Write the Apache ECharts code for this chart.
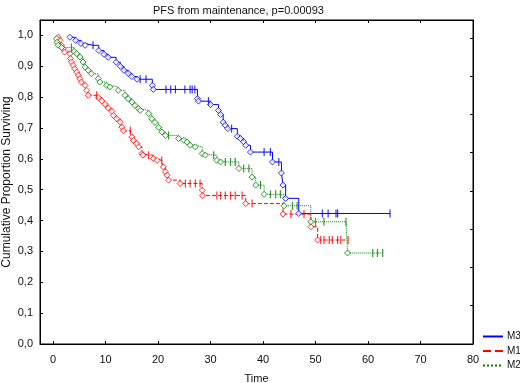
<!DOCTYPE html>
<html>
<head>
<meta charset="utf-8">
<script src="https://cdn.jsdelivr.net/npm/echarts@6/dist/echarts.min.js"></script>
<style>
html,body{margin:0;padding:0;background:#fff;}
#chartmain{width:520px;height:383px;}
</style>
</head>
<body>
<div id="chartmain"></div>
<script>
// tick values
var xTicks = [0, 10, 20, 30, 40, 50, 60, 70, 80];
var yTicks = [0, 0.1, 0.2, 0.3, 0.4, 0.5, 0.6, 0.7, 0.8, 0.9, 1.0];
var rightTicks = [1, 2, 3, 4, 5, 6, 7, 8];
var groups = ['M3', 'M1', 'M2'];

// M3 - event times / survival, censored times
var m3Times = [3.2, 4.3, 5.3, 6.1, 8.7, 9.7, 10.5, 12.0, 12.8, 13.5, 14.3, 15.0, 16.0, 18.9, 19.1, 27.5, 27.7, 30.0, 31.5, 31.9, 32.4, 32.8, 33.3, 35.1, 35.7, 36.3, 36.7, 37.6, 41.8, 43.5, 43.8, 44.3, 46.8];
var m3Surv = [0.994, 0.984, 0.974, 0.968, 0.951, 0.939, 0.929, 0.913, 0.900, 0.887, 0.877, 0.867, 0.858, 0.838, 0.825, 0.795, 0.787, 0.776, 0.757, 0.744, 0.719, 0.709, 0.698, 0.673, 0.666, 0.655, 0.644, 0.622, 0.590, 0.554, 0.515, 0.472, 0.423];
var m3Censor = [7.6, 16.6, 17.7, 21.5, 22.4, 23.3, 25.1, 26.1, 26.5, 27.0, 29.6, 34.0, 40.2, 41.4, 43.0, 51.3, 52.4, 53.9, 54.2, 64.2];

// M1
var m1Times = [0.96, 1.3, 1.6, 1.9, 2.2, 3.2, 3.3, 3.5, 3.8, 4.1, 4.5, 4.8, 5.1, 5.4, 6.1, 6.4, 6.7, 8.6, 9.3, 9.9, 10.5, 11.2, 11.5, 12.1, 12.8, 13.1, 13.4, 15.0, 15.3, 15.9, 16.3, 16.9, 17.1, 19.1, 19.8, 21.0, 21.4, 21.7, 22.0, 24.2, 28.4, 28.5, 36.7, 43.8, 49.1, 50.4];
var m1Surv = [0.994, 0.984, 0.968, 0.957, 0.946, 0.941, 0.925, 0.914, 0.903, 0.892, 0.881, 0.871, 0.860, 0.849, 0.838, 0.822, 0.806, 0.799, 0.788, 0.777, 0.765, 0.754, 0.741, 0.730, 0.719, 0.703, 0.691, 0.671, 0.660, 0.650, 0.639, 0.617, 0.612, 0.601, 0.595, 0.574, 0.558, 0.547, 0.531, 0.520, 0.498, 0.481, 0.455, 0.421, 0.380, 0.337];
var m1Censor = [8.3, 14.7, 18.2, 20.7, 25.2, 26.1, 27.1, 28.0, 31.2, 31.9, 32.8, 33.8, 34.7, 36.0, 37.9, 45.3, 47.8, 51.0, 51.6, 52.6, 53.2, 54.2, 54.8, 56.2];

// M2
var m2Times = [0.65, 0.76, 0.96, 1.6, 4.0, 4.5, 5.1, 5.7, 6.1, 6.7, 7.3, 8.6, 8.9, 10.2, 10.8, 12.4, 13.7, 14.3, 15.0, 15.6, 16.3, 16.6, 18.2, 18.8, 19.4, 20.1, 20.7, 21.4, 23.9, 24.9, 25.5, 26.1, 27.1, 28.4, 29.0, 31.2, 31.9, 35.4, 37.9, 38.6, 40.2, 44.0, 49.1, 56.1];
var m2Surv = [0.989, 0.978, 0.968, 0.961, 0.948, 0.941, 0.930, 0.914, 0.897, 0.887, 0.876, 0.860, 0.849, 0.838, 0.833, 0.822, 0.806, 0.795, 0.784, 0.773, 0.763, 0.757, 0.747, 0.730, 0.718, 0.702, 0.687, 0.676, 0.666, 0.660, 0.655, 0.644, 0.639, 0.617, 0.612, 0.595, 0.590, 0.569, 0.541, 0.515, 0.485, 0.448, 0.396, 0.295];
var m2Censor = [3.5, 22.0, 30.6, 32.8, 33.8, 34.7, 36.3, 37.3, 39.5, 41.4, 42.4, 43.3, 45.6, 46.5, 50.0, 51.6, 55.8, 60.9, 61.8, 62.8];

var colors = ['#0000ff', '#ff0000', '#008000'];
var lineTypes = ['solid', 'dashed', 'dotted'];
var font = 'Liberation Sans, Arial, sans-serif';

function survAt(times, surv, t) {
	var s = 1;
	for (var i = 0; i < times.length; i++) {
		if (times[i] <= t) s = surv[i];
	}
	return s;
}

function buildSeries(name, times, surv, censor, idx) {
	var events = times.map(function(t, i) { return [t, surv[i]]; });
	var cens = censor.map(function(t) { return [t, survAt(times, surv, t)]; });
	var all = events.concat(cens).sort(function(a, b) { return a[0] - b[0]; });
	return [{
		name: name,
		type: 'line',
		step: 'end',
		symbol: 'none',
		showSymbol: false,
		data: all,
		z: 2,
		lineStyle: {color: colors[idx], width: 1, type: lineTypes[idx]},
		itemStyle: {color: colors[idx]}
	}, {
		name: name + ' events',
		type: 'scatter',
		symbol: 'diamond',
		symbolSize: 6,
		data: events,
		z: 3,
		itemStyle: {color: '#fff', borderColor: colors[idx], borderWidth: 1}
	}, {
		name: name + ' censored',
		type: 'scatter',
		symbol: 'rect',
		symbolSize: [1.2, 8],
		data: cens,
		z: 4,
		itemStyle: {color: colors[idx]}
	}];
}

var series = []
	.concat(buildSeries('M3', m3Times, m3Surv, m3Censor, 0))
	.concat(buildSeries('M1', m1Times, m1Surv, m1Censor, 1))
	.concat(buildSeries('M2', m2Times, m2Surv, m2Censor, 2));

var option = {
	animation: false,
	backgroundColor: '#fff',
	title: {
		text: 'PFS from maintenance, p=0.00093',
		left: 148,
		top: 0,
		textStyle: {fontSize: 11, fontWeight: 'normal', color: '#111', fontFamily: font}
	},
	legend: {
		data: groups,
		orient: 'vertical',
		left: 482,
		top: 331,
		padding: 0,
		itemWidth: 20,
		itemHeight: 8,
		itemGap: 3.5,
		itemStyle: {opacity: 0},
		textStyle: {fontSize: 10, lineHeight: 11, color: '#111', fontFamily: font, padding: [0, 0, 0, -1]}
	},
	grid: {
		left: 40, right: 47, top: 20, bottom: 39,
		containLabel: false,
		outerBoundsMode: 'none',
		show: true, borderColor: '#000', borderWidth: 1
	},
	xAxis: [{
		type: 'value', min: -2.5, max: 80, position: 'bottom',
		name: 'Time', nameLocation: 'middle', nameGap: 29, nameMoveOverlap: false,
		nameTextStyle: {fontSize: 11, color: '#111', fontFamily: font},
		axisLine: {show: true, onZero: false, lineStyle: {color: '#000', width: 1}},
		axisTick: {inside: true, length: 3, customValues: xTicks, lineStyle: {color: '#000'}},
		axisLabel: {customValues: xTicks, margin: 10, fontSize: 11, color: '#111', fontFamily: font},
		splitLine: {show: false}
	}, {
		type: 'value', min: -2.5, max: 80, position: 'top',
		axisLine: {show: true, onZero: false, lineStyle: {color: '#000', width: 1}},
		axisTick: {inside: true, length: 3, customValues: xTicks, lineStyle: {color: '#000'}},
		axisLabel: {show: false},
		splitLine: {show: false}
	}],
	yAxis: [{
		type: 'value', min: 0, max: 1.05, position: 'left',
		name: 'Cumulative Proportion Surviving', nameLocation: 'middle', nameGap: 27, nameMoveOverlap: false,
		nameTextStyle: {fontSize: 12, color: '#111', fontFamily: font},
		axisLine: {show: true, onZero: false, lineStyle: {color: '#000', width: 1}},
		axisTick: {inside: true, length: 3, customValues: yTicks, lineStyle: {color: '#000'}},
		axisLabel: {
			customValues: yTicks, margin: 7, fontSize: 11, color: '#111', fontFamily: font,
			formatter: function(v) { return v.toFixed(1).replace('.', ','); }
		},
		splitLine: {show: false}
	}, {
		type: 'value', min: 0, max: 8.47, position: 'right',
		axisLine: {show: true, onZero: false, lineStyle: {color: '#000', width: 1}},
		axisTick: {inside: true, length: 3, customValues: rightTicks, lineStyle: {color: '#000'}},
		axisLabel: {show: false},
		splitLine: {show: false}
	}],
	series: series
};

var myChart = echarts.init(document.getElementById('chartmain'));
myChart.setOption(option);
</script>
</body>
</html>
